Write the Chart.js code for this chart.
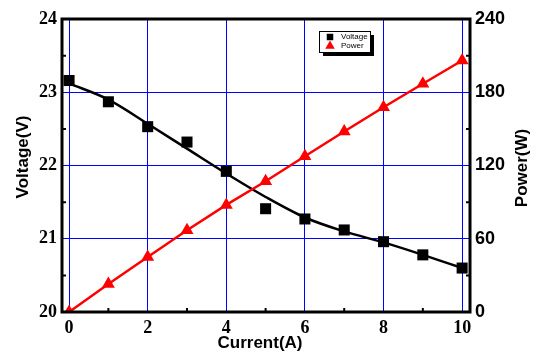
<!DOCTYPE html>
<html>
<head>
<meta charset="utf-8">
<script src="https://cdn.jsdelivr.net/npm/chart.js@4.4.0/dist/chart.umd.min.js"></script>
<style>
  body { margin: 0; background: #fff; }
  canvas { display: block; }
</style>
</head>
<body>
<canvas id="vpChart" width="538" height="357"></canvas>
<script>
// datos
const current = [0, 1, 2, 3, 4, 5, 6, 7, 8, 9, 10];
const voltage = [23.16, 22.87, 22.53, 22.32, 21.92, 21.41, 21.27, 21.12, 20.96, 20.78, 20.60];
const voltageFit = [23.12, 22.90, 22.57, 22.23, 21.89, 21.57, 21.29, 21.10, 20.95, 20.78, 20.60];
const power = [0, 22.9, 45.1, 67.0, 87.7, 107.1, 127.6, 147.8, 167.7, 187.0, 206.0];

const currentTicks = [0, 2, 4, 6, 8, 10];
const voltageTicks = [20, 21, 22, 23, 24];
const powerTicks = [0, 60, 120, 180, 240];
const currentMinor = [1, 3, 5, 7, 9];
const voltageMinor = [20.5, 21.5, 22.5, 23.5];
const powerMinor = [30, 90, 150, 210];

function toXY(ys) {
    return current.map((x, i) => ({ x: x, y: ys[i] }));
}

const serifBold = { family: '"Liberation Serif", "Times New Roman", serif', size: 18, weight: 'bold' };
const sansBold = { family: '"Liberation Sans", Arial, sans-serif', size: 18, weight: 'bold' };

// marco, ticks menores, titulos y leyenda
const framePlugin = {
    id: 'frame',
    afterDraw(chart) {
        const ctx = chart.ctx;
        const a = chart.chartArea;
        const sx = chart.scales.x, sy = chart.scales.y, sy1 = chart.scales.y1;
        ctx.save();

        // ticks menores hacia adentro
        ctx.strokeStyle = '#000';
        ctx.lineWidth = 2;
        ctx.beginPath();
        currentMinor.forEach(v => {
            const px = sx.getPixelForValue(v);
            ctx.moveTo(px, a.bottom);
            ctx.lineTo(px, a.bottom - 4);
        });
        voltageMinor.forEach(v => {
            const py = sy.getPixelForValue(v);
            ctx.moveTo(a.left, py);
            ctx.lineTo(a.left + 4, py);
        });
        powerMinor.forEach(v => {
            const py = sy1.getPixelForValue(v);
            ctx.moveTo(a.right, py);
            ctx.lineTo(a.right - 4, py);
        });
        ctx.stroke();

        // marco
        ctx.lineWidth = 3;
        ctx.strokeRect(a.left, a.top, a.right - a.left, a.bottom - a.top);

        // titulos de ejes
        ctx.fillStyle = '#000';
        ctx.font = 'bold 17px "Liberation Sans", Arial, sans-serif';
        ctx.textAlign = 'center';
        ctx.textBaseline = 'middle';
        ctx.fillText('Current(A)', 260, 343);

        ctx.save();
        ctx.translate(23.5, 157);
        ctx.rotate(-Math.PI / 2);
        ctx.fillText('Voltage(V)', 0, 0);
        ctx.restore();

        ctx.save();
        ctx.translate(522, 168);
        ctx.rotate(-Math.PI / 2);
        ctx.fillText('Power(W)', 0, 0);
        ctx.restore();

        // leyenda
        const lx = 319, ly = 31, lw = 51, lh = 21;
        ctx.fillStyle = '#000';
        ctx.fillRect(lx + 4, ly + 4, lw, lh);
        ctx.fillStyle = '#fff';
        ctx.fillRect(lx, ly, lw, lh);
        ctx.lineWidth = 1;
        ctx.strokeStyle = '#000';
        ctx.strokeRect(lx + 0.5, ly + 0.5, lw, lh);

        const items = [chart.data.datasets[0], chart.data.datasets[2]];
        items.forEach((ds, i) => {
            const cy = ly + 6 + i * 9;
            ctx.fillStyle = ds.pointBackgroundColor;
            ctx.strokeStyle = ds.pointBackgroundColor;
            Chart.helpers.drawPoint(ctx, {
                pointStyle: ds.pointStyle,
                radius: i === 0 ? 4.6 : 5.5,
                rotation: 0,
                borderWidth: 0
            }, lx + 11, cy);
            ctx.fillStyle = '#000';
            ctx.font = '8px "Liberation Sans", Arial, sans-serif';
            ctx.textAlign = 'left';
            ctx.textBaseline = 'middle';
            ctx.fillText(ds.label, lx + 22, cy);
        });

        ctx.restore();
    }
};

const ctx = document.getElementById('vpChart').getContext('2d');

new Chart(ctx, {
    type: 'scatter',
    data: {
        datasets: [{
            label: 'Voltage',
            data: toXY(voltage),
            yAxisID: 'y',
            showLine: false,
            pointStyle: 'rect',
            pointRadius: 7.8,
            pointBackgroundColor: '#000',
            pointBorderWidth: 0,
            order: 1
        }, {
            label: 'Voltage fit',
            data: toXY(voltageFit),
            yAxisID: 'y',
            showLine: true,
            borderColor: '#000',
            borderWidth: 2.5,
            pointRadius: 0,
            tension: 0.4,
            cubicInterpolationMode: 'monotone',
            order: 2
        }, {
            label: 'Power',
            data: toXY(power),
            yAxisID: 'y1',
            showLine: true,
            borderColor: '#ff0000',
            borderWidth: 2.5,
            pointStyle: 'triangle',
            pointRadius: 7.5,
            pointBackgroundColor: '#ff0000',
            pointBorderWidth: 0,
            order: 0
        }]
    },
    options: {
        responsive: false,
        animation: false,
        layout: { padding: { top: 19, left: 0, right: 0, bottom: 0 } },
        plugins: {
            legend: { display: false },
            tooltip: { enabled: false }
        },
        scales: {
            x: {
                type: 'linear',
                position: 'bottom',
                min: -0.18,
                max: 10.2,
                afterBuildTicks: s => { s.ticks = currentTicks.map(v => ({ value: v })); },
                afterFit: s => { s.height = 45; },
                grid: { color: '#0000ff', lineWidth: 1, drawTicks: false },
                border: { display: false },
                ticks: { color: '#000', font: serifBold, padding: 6, maxRotation: 0 }
            },
            y: {
                type: 'linear',
                position: 'left',
                min: 20,
                max: 24,
                afterBuildTicks: s => { s.ticks = voltageTicks.map(v => ({ value: v })); },
                afterFit: s => { s.width = 62; },
                grid: { color: '#0000ff', lineWidth: 1, drawTicks: false },
                border: { display: false },
                ticks: { color: '#000', font: serifBold, padding: 5 }
            },
            y1: {
                type: 'linear',
                position: 'right',
                min: 0,
                max: 240,
                afterBuildTicks: s => { s.ticks = powerTicks.map(v => ({ value: v })); },
                afterFit: s => { s.width = 68; },
                grid: { display: false, drawTicks: false },
                border: { display: false },
                ticks: { color: '#000', font: sansBold, padding: 5 }
            }
        }
    },
    plugins: [framePlugin]
});
</script>
</body>
</html>
